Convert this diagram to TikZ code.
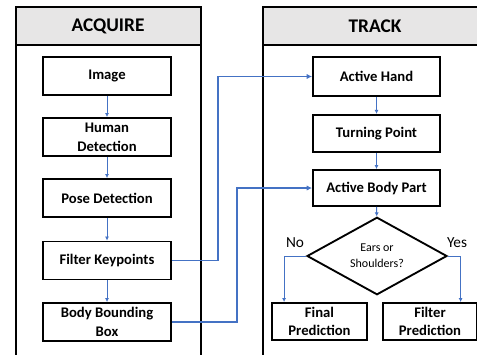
\documentclass[tikz,border=0pt]{standalone}
\usepackage{fontspec}
\setmainfont{Carlito}
\usetikzlibrary{arrows.meta,shapes.geometric,calc}
\definecolor{flowBlue}{HTML}{4472C4}
\definecolor{laneGray}{HTML}{E7E6E6}
\tikzset{
  lane/.style={draw=black,line width=1.4pt},
  lanehead/.style={draw=black,fill=laneGray,line width=1.4pt},
  stepbox/.style={draw=black,line width=1.4pt,fill=white,align=center,
    font=\bfseries\fontsize{11}{14}\selectfont,inner sep=0pt},
  decbox/.style={diamond,draw=black,line width=1.4pt,fill=white,align=center,
    inner sep=0pt,minimum width=105pt,minimum height=48.75pt,
    font=\fontsize{9}{12}\selectfont},
  flow/.style={flowBlue,line width=0.7pt,-{Latex[length=3pt,width=3pt]}},
  link/.style={flowBlue,line width=1.4pt,-{Latex[length=4pt,width=4pt]}}
}

\begin{document}
\begin{tikzpicture}[x=0.75pt,y=-0.75pt]
  \useasboundingbox (0,0) rectangle (477,354);
  \clip (0,0) rectangle (477,354);
  % ---- lanes ----
  \draw[lane] (16,7) rectangle (201,380);
  \draw[lanehead] (16,7) rectangle (201,45);
  \node[font=\bfseries\fontsize{14.5}{16}\selectfont] (acq) at (108,26) {ACQUIRE};
  \draw[lane] (263,7) rectangle (490,380);
  \draw[lanehead] (263,7) rectangle (490,45);
  \node[font=\bfseries\fontsize{14.5}{16}\selectfont] (trk) at (375,26) {TRACK};
  % ---- acquire ----
  \node[stepbox,minimum width=96pt,minimum height=28.5pt] (img) at (107,76) {Image};
  \node[stepbox,minimum width=96pt,minimum height=28.5pt] (hum) at (107,137) {Human\\Detection};
  \node[stepbox,minimum width=96pt,minimum height=28.5pt] (pose) at (107,198) {Pose Detection};
  \node[stepbox,minimum width=96pt,minimum height=28.5pt] (filt) at (107,260.5) {Filter Keypoints};
  \node[stepbox,minimum width=96pt,minimum height=28.5pt] (bbox) at (107,322) {Body Bounding\\Box};
  \draw[flow] (img) -- (hum);
  \draw[flow] (hum) -- (pose);
  \draw[flow] (pose) -- (filt);
  \draw[flow] (filt) -- (bbox);
  % ---- track ----
  \node[stepbox,minimum width=95.25pt,minimum height=29pt] (hand) at (376.5,76.5) {Active Hand};
  \node[stepbox,minimum width=95.25pt,minimum height=28pt] (turn) at (376.5,133.5) {Turning Point};
  \node[stepbox,minimum width=95.25pt,minimum height=27pt] (part) at (376.5,188) {Active Body Part};
  \node[decbox] (ears) at (377,256) {Ears or\\Shoulders?};
  \node[stepbox,minimum width=71.25pt,minimum height=27.75pt] (final) at (319.5,321.5) {Final\\Prediction};
  \node[stepbox,minimum width=70.5pt,minimum height=27.75pt] (fpred) at (430,321.5) {Filter\\Prediction};
  \draw[flow] (hand) -- (turn);
  \draw[flow] (turn) -- (part);
  \draw[flow] (part) -- (ears);
  \draw[flow] (ears.west) -| ([xshift=9.75pt]final.north west);
  \draw[flow] (ears.east) -| ([xshift=-13pt]fpred.north east);
  \node[font=\fontsize{11.5}{13}\selectfont] (no) at (295,243) {No};
  \node[font=\fontsize{11.5}{13}\selectfont] (yes) at (457,243) {Yes};
  % ---- hand-over ----
  \draw[link] (filt.east) -- ++(46,0) |- (hand.west);
  \draw[link] (bbox.east) -- ++(65,0) |- (part.west);
\end{tikzpicture}
\end{document}
